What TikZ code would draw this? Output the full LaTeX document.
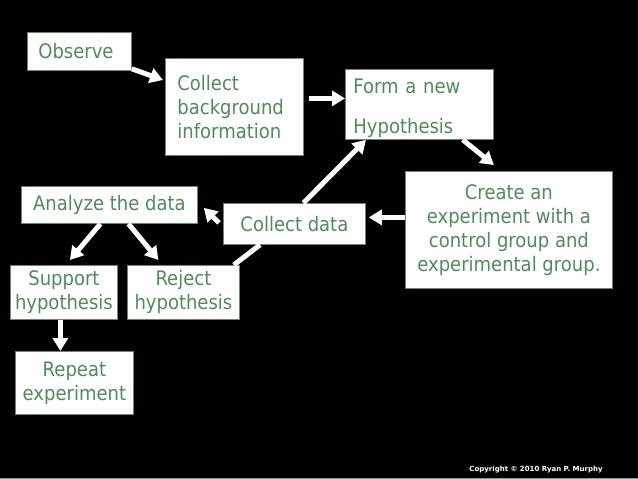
\documentclass[tikz,border=0pt]{standalone}
\usepackage{fontspec}
\setmainfont{DejaVu Sans}[FakeStretch=0.9]
\newfontfamily\copyfont{DejaVu Sans}
\usetikzlibrary{arrows.meta}
\definecolor{slidegreen}{RGB}{80,140,90}
\definecolor{boxedge}{RGB}{100,140,100}
\definecolor{edgegray}{RGB}{150,150,150}

\begin{document}
\begin{tikzpicture}[x=1pt,y=-1pt,
    stepnode/.style={draw=boxedge,line width=0.8pt,fill=white,text=slidegreen,
      font=\fontsize{20}{24}\selectfont,inner sep=0pt,anchor=north west},
    arrow/.style={draw=white,line width=5pt,-{Triangle[length=13pt,width=15pt]}},
    link/.style={draw=white,line width=5pt}]
  % slide background
  \fill [black] (0,0) rectangle (638,479);
  \fill [edgegray] (0,477.5) rectangle (638,479);
  \useasboundingbox (0,0) rectangle (638,479);
  % boxes
  \node [stepnode,minimum height=38pt,inner xsep=11pt,text width=82pt,align=left] (observe) at (27,32) {Observe};
  \node [stepnode,minimum height=97pt,inner xsep=12pt,text width=114pt,align=left] (background) at (165,58) {Collect\\background\\information};
  \node [stepnode,minimum height=70pt,inner xsep=8pt,text width=132pt,align=left] (hypothesis) at (345,69) {\rule{0pt}{23pt}Form a new\\[16pt]Hypothesis};
  \node [stepnode,minimum width=207pt,minimum height=117pt,align=center] (experiment) at (405,171) {Create an\\experiment with a\\control group and\\experimental group.};
  \node [stepnode,minimum width=142pt,minimum height=41pt] (collect) at (223,203) {Collect data};
  \node [stepnode,minimum width=176pt,minimum height=37pt] (analyze) at (21,186) {Analyze the data};
  \node [stepnode,minimum width=107pt,minimum height=54pt,align=center] (support) at (10,265) {Support\\hypothesis};
  \node [stepnode,minimum width=112pt,minimum height=54pt,align=center] (reject) at (127,265) {Reject\\hypothesis};
  \node [stepnode,minimum width=118pt,minimum height=63pt,align=center] (repeat) at (15,351) {Repeat\\experiment};
  % connectors
  \draw [arrow] ([yshift=2pt]observe.south east) -- ([xshift=-2pt,yshift=-22pt]background.north west);
  \draw [arrow] ([xshift=5pt,yshift=8.5pt]background.east) -- ([yshift=6pt]hypothesis.west);
  \draw [arrow] ([xshift=-31pt]hypothesis.south east) -- ([xshift=-15pt,yshift=6pt]experiment.north);
  \draw [arrow] ([yshift=12.5pt]experiment.west) -- ([xshift=3pt,yshift=6.5pt]collect.east);
  \draw [arrow] ([xshift=9pt]collect.north) -- ([xshift=21pt]hypothesis.south west);
  \draw [arrow] ([xshift=-4pt,yshift=1pt]collect.west) -- ([xshift=6pt,yshift=-3pt]analyze.east);
  \draw [arrow] ([xshift=-9pt]analyze.south) -- ([xshift=6pt,yshift=5pt]support.north);
  \draw [arrow] ([xshift=19pt]analyze.south) -- ([xshift=-25pt,yshift=5pt]reject.north);
  \draw [link] ([xshift=-6pt]reject.north east) -- ([xshift=37pt]collect.south west);
  \draw [arrow] ([xshift=-3.5pt]support.south) -- ([xshift=-14pt]repeat.north);
  % footer
  \node [text=white,font=\copyfont\bfseries\fontsize{7}{8}\selectfont] (copyright) at (536,470) {Copyright © 2010 Ryan P. Murphy};
\end{tikzpicture}
\end{document}
